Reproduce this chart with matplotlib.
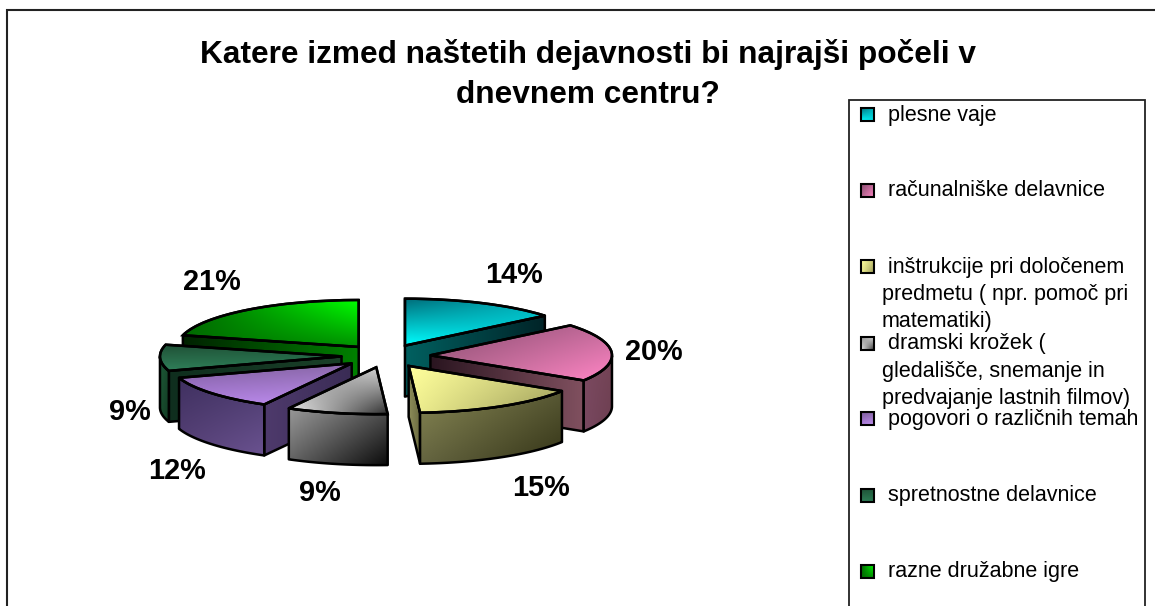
import numpy as np
import matplotlib
matplotlib.use("Agg")
import matplotlib.pyplot as plt
from matplotlib.colors import to_rgb
from matplotlib.patches import Polygon, Rectangle

plt.rcParams['font.family'] = ['Liberation Sans', 'DejaVu Sans']

# ---------- data ----------
title_lines = ["Katere izmed naštetih dejavnosti bi najrajši počeli v", "dnevnem centru?"]
categories = ["plesne vaje", "računalniške delavnice",
              "inštrukcije pri določenem\npredmetu ( npr. pomoč pri\nmatematiki)",
              "dramski krožek (\ngledališče, snemanje in\npredvajanje lastnih filmov)",
              "pogovori o različnih temah", "spretnostne delavnice", "razne družabne igre"]
values = [14, 20, 15, 9, 12, 9, 21]

# ---------- style: (top-left, top-right, bottom-left, bottom-right) ----------
top_colors = [
    ("#006f7c", "#00b4bc", "#00ffff", "#00dce4"),
    ("#8a4a70", "#c06a98", "#b46a90", "#ff84c4"),
    ("#ffff9c", "#c8c878", "#f0f090", "#9a9a58"),
    ("#909090", "#dcdcdc", "#f0f0f0", "#303030"),
    ("#7c5c9c", "#8a68a8", "#b080e0", "#c090f0"),
    ("#1f4f35", "#1f5a3c", "#30805a", "#2a7a52"),
    ("#006400", "#00ff00", "#006c00", "#009000"),
]
face_colors = [
    ("#006060", "#002428"), ("#2a1520", "#80505f"), ("#8c8c58", "#6a6a40"),
    ("#8a8a8a", "#202020"), ("#4e3a6c", "#3a2c55"), ("#0f2e1e", "#1a4028"),
    ("#002200", "#008000"),
]
rim_colors = [  # (top-left, top-right, bottom-left, bottom-right)
    ("#006060", "#003038", "#004448", "#002428"),
    ("#7c4a60", "#744456", "#784860", "#6c3e50"),
    ("#868652", "#585834", "#646440", "#343416"),
    ("#989898", "#505050", "#606060", "#0c0c0c"),
    ("#3f3060", "#4a3a6c", "#584278", "#6a5290"),
    ("#1e5a38", "#174a2c", "#174a2c", "#133a24"),
    ("#006000", "#006000", "#006000", "#006000"),
]
draw_order = [6, 0, 5, 1, 4, 2, 3]
label_px = [(514, 275), (654, 352), (541, 488), (320, 493), (177, 471), (130, 412), (212, 282)]
legend_rows_px = [114, 190, 266, 343, 418, 495, 571]

PX_W, PX_H = 1155, 606
CX, CY, RX, RY, DEPTH_PX = 386, 356, 178, 46, 51

fig = plt.figure(figsize=(PX_W / 100, PX_H / 100), dpi=100, facecolor="white")
ax = fig.add_axes([0, 0, 1, 1], zorder=1)
wedges, _ = ax.pie(values, explode=[0.25] * len(values), startangle=90, counterclock=False,
                   radius=1.02, wedgeprops=dict(fill=False, edgecolor="black", linewidth=1.8))
ax.set_aspect("auto")
ax.set_xlim(-CX / RX, (PX_W - CX) / RX)
ax.set_ylim((CY - PX_H) / RY, CY / RY)
ax.patch.set_alpha(0)
depth = DEPTH_PX / RY


def gradient(corners, n=48):
    tl, tr, bl, br = [np.array(to_rgb(c)) for c in corners]
    t = np.linspace(0, 1, n)[:, None, None]
    s = np.linspace(0, 1, n)[None, :, None]
    return (1 - t) * ((1 - s) * tl + s * tr) + t * ((1 - s) * bl + s * br)


def fill(axis, pts, corners, z, lw=1.8):
    pts = np.asarray(pts)
    x0, y0 = pts.min(axis=0)
    x1, y1 = pts.max(axis=0)
    poly = Polygon(pts, closed=True, fill=False, edgecolor="black", linewidth=lw,
                   joinstyle="round", zorder=z + 0.1)
    axis.add_patch(poly)
    im = axis.imshow(gradient(corners), extent=(x0, x1, y0, y1), origin="upper", aspect="auto",
                     interpolation="bilinear", zorder=z)
    im.set_clip_path(poly)


z = 2
for i in draw_order:
    w = wedges[i]
    cx, cy = w.center
    r = w.r
    th1, th2 = w.theta1, w.theta2
    th = np.radians(np.linspace(th1, th2, 80))
    rim_x, rim_y = cx + r * np.cos(th), cy + r * np.sin(th)

    # radial faces that look towards the viewer
    for ang, sign in ((th2, 1), (th1, -1)):
        a = np.radians(ang)
        if sign * np.cos(a) < -1e-6:
            ex, ey = cx + r * np.cos(a), cy + r * np.sin(a)
            if ex > cx:
                p = [(cx, cy), (ex, ey), (ex, ey - depth), (cx, cy - depth)]
            else:
                p = [(ex, ey), (cx, cy), (cx, cy - depth), (ex, ey - depth)]
            c0, c1 = face_colors[i]
            fill(ax, p, (c0, c1, c0, c1), z)
            z += 1

    # curved outer wall: only the part that faces downwards
    mask = np.sin(th) <= 0
    if mask.sum() > 1:
        xs, ys = rim_x[mask], rim_y[mask]
        p = np.vstack([np.c_[xs, ys], np.c_[xs, ys - depth][::-1]])
        fill(ax, p, rim_colors[i], z)
        z += 1

    # top surface, outlined by the pie's own wedge
    verts = np.vstack([[(cx, cy)], np.c_[rim_x, rim_y]])
    fill(ax, verts, top_colors[i], z)
    z += 1
    w.set_zorder(z)
    z += 1

# ---------- overlay in pixel coordinates ----------
ov = fig.add_axes([0, 0, 1, 1], zorder=2)
ov.set_xlim(0, PX_W)
ov.set_ylim(PX_H, 0)
ov.axis("off")
ov.patch.set_alpha(0)

# chart frame (open at the right and at the bottom)
ov.plot([7, 7, PX_W], [PX_H, 10, 10], color="#222222", lw=1.5, solid_joinstyle="miter")

# title
for line, y in zip(title_lines, (54, 95)):
    ov.text(588, y, line, ha="center", va="center", fontsize=22.8, fontweight="bold", color="black")

# percentage labels
for v, (x, y) in zip(values, label_px):
    ov.text(x, y, f"{v}%", ha="center", va="center", fontsize=20.8, fontweight="bold", color="black")

# legend box, cut off by the bottom of the picture
ov.plot([849, 849, 1145, 1145], [PX_H, 100, 100, PX_H], color="#222222", lw=1.3, solid_joinstyle="miter")
for i, (cat, y) in enumerate(zip(categories, legend_rows_px)):
    sw = Rectangle((861, y - 6), 13, 13, fill=False, edgecolor="black", linewidth=1.5, zorder=5)
    ov.add_patch(sw)
    im = ov.imshow(gradient(top_colors[i]), extent=(861, 874, y + 7, y - 6), origin="upper",
                   aspect="auto", interpolation="bilinear", zorder=4)
    im.set_clip_path(sw)
    lines = cat.split("\n")
    for k, line in enumerate(lines):
        nudge = 1 if len(lines) > 1 or y != legend_rows_px[4] else 2
        ov.text(888 if k == 0 else 882, y + nudge + k * 27.4, line, ha="left", va="center",
                fontsize=15.5, color="black", zorder=6)
ov.set_xlim(0, PX_W)
ov.set_ylim(PX_H, 0)

fig.savefig("out.png", dpi=100)
